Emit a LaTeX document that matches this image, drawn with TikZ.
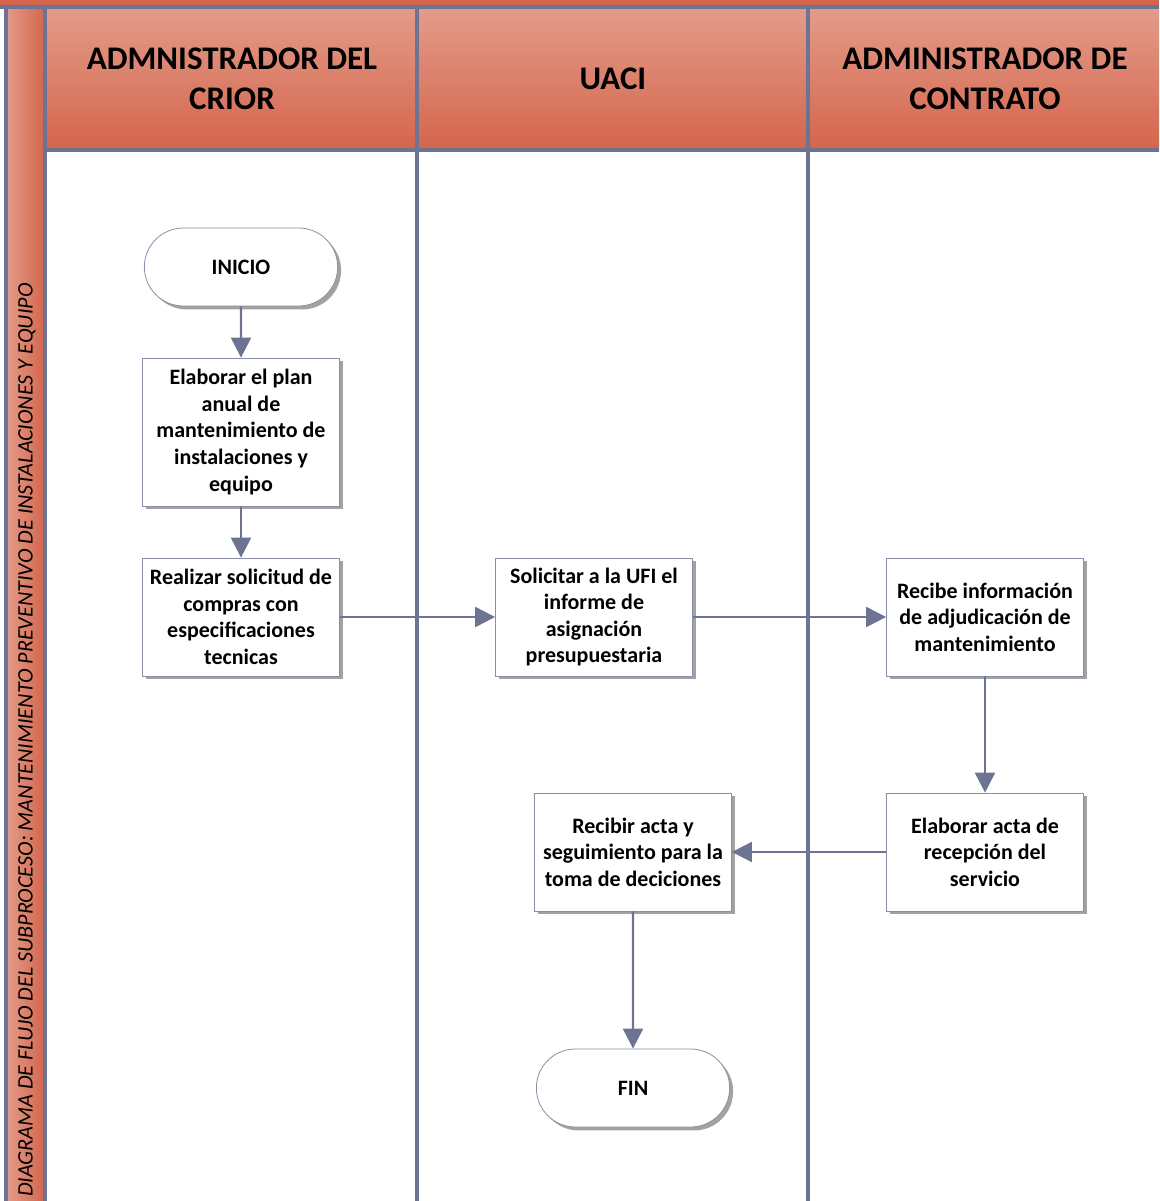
\documentclass[tikz,border=0pt]{standalone}
\usepackage{fontspec}
\setmainfont{Carlito}
\usetikzlibrary{arrows.meta,shapes.misc,shadows}
\definecolor{laneline}{HTML}{6C7393}
\definecolor{hdrtop}{HTML}{E39C8A}
\definecolor{hdrbot}{HTML}{D4654C}
\definecolor{shadowgray}{HTML}{A2A2A2}
\begin{document}
\begin{tikzpicture}[x=0.75pt,y=-0.75pt,
  lane/.style={draw=laneline,line width=2.4pt},
  hdrtext/.style={font=\fontsize{24.75}{30}\selectfont\bfseries,align=center,text=black},
  procbox/.style={draw=laneline!80,line width=0.6pt,fill=white,minimum width=147.75pt,
    minimum height=88.5pt,align=center,inner sep=2pt,
    font=\fontsize{16.5}{19.9}\selectfont\bfseries,
    drop shadow={shadow xshift=2.6pt,shadow yshift=-2.6pt,fill=shadowgray,opacity=1}},
  terminal/.style={procbox,rounded rectangle,minimum width=149pt,minimum height=58.5pt},
  flow/.style={draw=laneline,line width=1.6pt,-{Triangle[length=15pt,width=15pt]}}]
\useasboundingbox (0,0) rectangle (1159,1201);

% header strip and lane titles
\fill[hdrbot] (0,0) rectangle (1159,7);
\shade[top color=hdrtop,bottom color=hdrbot] (45,7) rectangle (1159,150);
\shade[left color=hdrtop,right color=hdrbot] (6,7) rectangle (45,1201);

% lane borders
\draw[lane] (0,7) -- (1159,7);
\draw[lane] (6,7) -- (6,1201);
\draw[lane] (45,7) -- (45,1201);
\draw[lane] (45,150) -- (1159,150);
\draw[lane] (417,7) -- (417,1201);
\draw[lane] (808,7) -- (808,1201);

\node[hdrtext] (h1) at (232,79) {ADMNISTRADOR DEL\\CRIOR};
\node[hdrtext] (h2) at (613,79) {UACI};
\node[hdrtext] (h3) at (985,79) {ADMINISTRADOR DE\\CONTRATO};

\node[rotate=90,anchor=west,inner sep=0pt,font=\fontsize{16.6}{20}\selectfont\itshape] (title) at (27,1197)
  {DIAGRAMA DE FLUJO DEL SUBPROCESO: MANTENIMIENTO PREVENTIVO DE INSTALACIONES Y EQUIPO};

% flow nodes
\node[terminal] (inicio) at (241,267) {INICIO};
\node[procbox,minimum height=111pt] (plan) at (241,432)
  {Elaborar el plan\\anual de\\mantenimiento de\\instalaciones y\\equipo};
\node[procbox] (solic) at (241,617)
  {Realizar solicitud de\\compras con\\especificaciones\\tecnicas};
\node[procbox] (ufi) at (594,617)
  {Solicitar a la UFI el\\informe de\\asignación\\presupuestaria};
\node[procbox] (adj) at (985,617)
  {Recibe información\\de adjudicación de\\mantenimiento};
\node[procbox] (acta) at (985,852)
  {Elaborar acta de\\recepción del\\servicio};
\node[procbox] (recib) at (633,852)
  {Recibir acta y\\seguimiento para la\\toma de deciciones};
\node[terminal] (fin) at (633,1088) {FIN};

% connectors
\draw[flow] (inicio) -- (plan);
\draw[flow] (plan) -- (solic);
\draw[flow] (solic) -- (ufi);
\draw[flow] (ufi) -- (adj);
\draw[flow] (adj) -- (acta);
\draw[flow] (acta) -- (recib);
\draw[flow] (recib) -- (fin);
\end{tikzpicture}
\end{document}
